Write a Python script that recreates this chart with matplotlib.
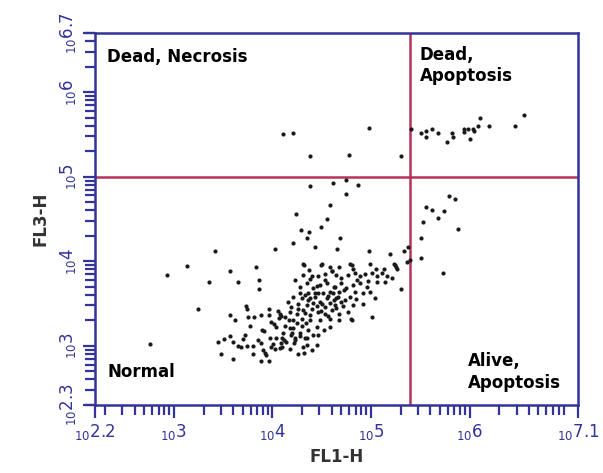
import matplotlib
matplotlib.use("Agg")
import matplotlib.pyplot as plt
import numpy as np
from matplotlib.ticker import LogLocator, NullFormatter

# events as log10 of the channel values (FL1-H, FL3-H)
fl1_log = [
    4.11, 4.21, 4.38, 4.78, 4.98, 5.30, 5.41, 5.51, 5.56, 5.56, 5.62, 5.68, 5.77,
    5.82, 5.83, 5.94, 5.94, 5.98, 6.04, 6.05, 6.00, 6.09, 6.11, 6.20, 6.46, 6.55,
    4.38, 4.61, 4.75, 4.87, 4.75, 4.58, 4.24, 4.55, 4.49, 4.29, 4.37, 4.35, 4.69,
    4.21, 4.43, 4.03, 4.66, 4.98, 5.19, 3.42, 5.33, 5.38, 5.40, 3.57, 3.83, 4.32,
    4.49, 4.60, 4.81, 3.36, 3.65, 3.86, 3.86, 5.30, 5.04, 5.01, 4.81,
    5.79, 5.85, 5.56, 5.62, 5.74, 5.68, 5.53, 5.88, 5.51, 5.51, 5.73, 5.37, 5.23, 5.25,
    3.13, 2.93, 3.25, 2.76,
    3.73, 3.74, 3.57, 3.62, 3.75, 3.81, 3.88, 3.97, 3.97, 4.06, 3.77, 3.99, 4.02,
    3.89, 3.91, 4.07, 4.09, 3.72, 3.70, 3.45, 3.51, 3.57, 3.60, 3.65, 3.68, 3.74,
    3.80, 3.85, 3.88, 3.90, 3.92, 3.94, 3.98, 4.01, 3.99, 4.03, 4.10, 4.12, 4.09,
    4.10, 3.48, 3.60, 3.80, 3.88, 3.97, 4.18, 4.26, 4.32, 4.35, 4.40, 4.18, 4.20,
    4.23, 4.22, 4.28, 4.35, 4.46,
    4.31, 4.37, 4.50, 4.58, 4.68, 4.79, 4.82, 4.99, 5.05, 5.13, 5.24, 5.26,
    4.23, 4.31, 4.40, 4.46, 4.53, 4.60, 4.65, 4.70, 4.77, 4.84, 4.89, 4.94, 5.01,
    5.06, 5.11, 5.16, 5.21, 5.14, 5.06,
    4.28, 4.35, 4.41, 4.48, 4.55, 4.63, 4.70, 4.75, 4.82, 4.89, 4.96, 4.99, 4.92,
    4.84, 4.68, 4.58, 4.46, 4.36, 4.28, 4.21,
    4.30, 4.36, 4.43, 4.48, 4.55, 4.62, 4.67, 4.74, 4.79, 4.85, 4.92, 4.82, 4.72,
    4.63, 4.53, 4.45, 4.35, 4.26, 4.19, 4.16,
    4.18, 4.25, 4.31, 4.38, 4.46, 4.53, 4.60, 4.68, 4.77, 4.80, 4.68, 4.58, 4.48,
    4.38, 4.30, 4.21, 4.13, 4.08,
    4.04, 4.13, 4.21, 4.30, 4.36, 4.45, 4.52, 4.58, 4.11, 4.19, 4.28, 4.33, 4.23,
    4.14, 4.04, 4.41, 4.31, 4.45, 4.08,
    4.33, 4.38, 4.43, 4.51, 4.56, 4.61, 4.65, 4.41, 4.50, 4.58, 4.65, 4.40, 4.33,
    4.49, 4.56, 4.26, 4.70, 4.73, 4.62, 4.45, 4.25, 4.34, 4.17, 4.38, 4.53, 4.86, 4.97,
]
fl3_log = [
    5.50, 5.52, 5.24, 5.26, 5.58, 5.24, 5.57, 5.52, 5.54, 5.47, 5.57, 5.52, 5.41,
    5.52, 5.47, 5.57, 5.53, 5.56, 5.57, 5.54, 5.44, 5.60, 5.70, 5.60, 5.60, 5.73,
    4.89, 4.92, 4.96, 4.90, 4.79, 4.66, 4.56, 4.50, 4.40, 4.37, 4.35, 4.27, 4.27,
    4.22, 4.17, 4.14, 4.14, 4.12, 4.08, 4.12, 4.12, 4.17, 4.01, 3.89, 3.93, 3.96,
    3.95, 3.89, 3.96, 3.75, 3.75, 3.78, 3.67, 3.67, 3.57, 3.34, 3.31,
    4.77, 4.74, 4.64, 4.61, 4.59, 4.51, 4.46, 4.38, 4.27, 4.04, 3.86, 3.99, 3.97, 3.93,
    3.94, 3.84, 3.44, 3.02,
    3.47, 3.44, 3.37, 3.31, 3.34, 3.34, 3.37, 3.44, 3.37, 3.41, 3.24, 3.28, 3.26,
    3.19, 3.17, 3.33, 3.35, 3.13, 3.08, 3.05, 3.08, 3.11, 3.05, 3.00, 2.98, 3.00,
    3.00, 3.07, 3.03, 2.95, 2.91, 2.89, 3.09, 3.02, 2.98, 2.96, 3.09, 3.07, 3.03,
    2.98, 2.90, 2.84, 2.90, 2.82, 2.82, 2.96, 2.90, 2.92, 3.01, 2.95, 3.21, 3.15,
    3.09, 3.03, 3.11, 3.09, 3.13,
    3.97, 3.90, 3.97, 3.93, 3.93, 3.97, 3.91, 3.97, 3.91, 3.91, 3.95, 3.91,
    3.78, 3.84, 3.82, 3.82, 3.85, 3.88, 3.84, 3.80, 3.84, 3.86, 3.82, 3.85, 3.86,
    3.82, 3.86, 3.82, 3.80, 3.76, 3.76,
    3.70, 3.74, 3.68, 3.72, 3.74, 3.70, 3.74, 3.68, 3.72, 3.74, 3.70, 3.64, 3.62,
    3.64, 3.64, 3.64, 3.62, 3.62, 3.62, 3.58,
    3.56, 3.54, 3.58, 3.52, 3.56, 3.54, 3.58, 3.54, 3.58, 3.55, 3.50, 3.48, 3.47,
    3.48, 3.46, 3.47, 3.48, 3.50, 3.46, 3.52,
    3.40, 3.38, 3.42, 3.36, 3.40, 3.38, 3.42, 3.38, 3.40, 3.32, 3.30, 3.32, 3.30,
    3.30, 3.32, 3.30, 3.34, 3.38,
    3.22, 3.24, 3.21, 3.24, 3.19, 3.22, 3.19, 3.22, 3.15, 3.13, 3.15, 3.09, 3.07,
    3.05, 3.09, 3.13, 2.99, 3.01, 2.97,
    3.60, 3.57, 3.63, 3.63, 3.59, 3.63, 3.57, 3.51, 3.49, 3.51, 3.45, 3.44, 3.39,
    3.41, 3.35, 3.44, 3.52, 3.66, 3.70, 3.71, 3.27, 3.27, 3.31, 3.79, 3.78, 3.78, 3.77,
]

# axis range and quadrant gates (log10)
x_lim = (2.2, 7.1)
y_lim = (2.3, 6.7)
x_gate = 5.4
y_gate = 5.0
x_tick_exp = ["2.2", "3", "4", "5", "6", "7.1"]
y_tick_exp = ["2.3", "3", "4", "5", "6", "6.7"]

quadrant_text = ["Dead, Necrosis", "Dead,\nApoptosis", "Normal", "Alive,\nApoptosis"]

blue = "#33339a"
gate_col = "#b2355a"

fig = plt.figure(figsize=(6.03, 4.73), dpi=100)
ax = fig.add_axes([0.1575, 0.1438, 0.801, 0.7865])

x = 10 ** np.array(fl1_log)
y = 10 ** np.array(fl3_log)
ax.scatter(x, y, s=9, c="#1a1a1a", linewidths=0, zorder=3)

ax.set_xscale("log")
ax.set_yscale("log")
ax.set_xlim(10 ** x_lim[0], 10 ** x_lim[1])
ax.set_ylim(10 ** y_lim[0], 10 ** y_lim[1])

ax.axvline(10 ** x_gate, color=gate_col, lw=1.8, zorder=2)
ax.axhline(10 ** y_gate, color=gate_col, lw=1.8, zorder=2)

ax.set_xticks([10 ** float(e) for e in x_tick_exp])
ax.set_xticklabels([r"$_{10}$" + e for e in x_tick_exp])
ax.set_yticks([10 ** float(e) for e in y_tick_exp])
ax.set_yticklabels([r"$_{10}$" + e for e in y_tick_exp], rotation=90, va="center")
for axis in (ax.xaxis, ax.yaxis):
    axis.set_minor_locator(LogLocator(base=10, subs=np.arange(2, 10)))
    axis.set_minor_formatter(NullFormatter())

ax.tick_params(which="both", direction="out", color=blue, labelcolor=blue,
               width=1.6, labelsize=12, top=False, right=False)
ax.tick_params(which="major", length=9)
ax.tick_params(which="minor", length=7)
for sp in ax.spines.values():
    sp.set_color(blue)
    sp.set_linewidth(1.8)

ax.set_xlabel("FL1-H", fontsize=12, fontweight="bold", color="#333333", labelpad=4)
ax.set_ylabel("FL3-H", fontsize=12, fontweight="bold", color="#333333", labelpad=6)

txt = dict(transform=ax.transAxes, fontsize=12, fontweight="bold", color="black",
           linespacing=1.25)
ax.text(0.025, 0.935, quadrant_text[0], ha="left", va="center", **txt)
ax.text(0.672, 0.965, quadrant_text[1], ha="left", va="top", **txt)
ax.text(0.025, 0.089, quadrant_text[2], ha="left", va="center", **txt)
ax.text(0.772, 0.035, quadrant_text[3], ha="left", va="bottom", **txt)

fig.savefig("out.png", dpi=100)
